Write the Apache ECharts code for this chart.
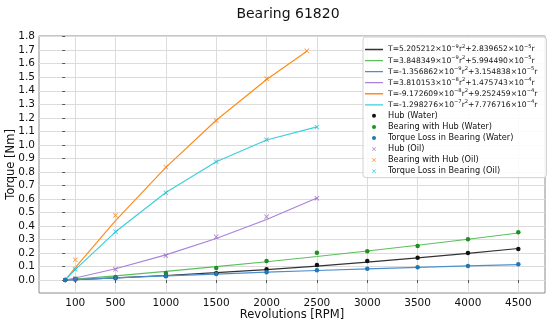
<!DOCTYPE html>
<html><head><meta charset="utf-8">
<script src="https://cdn.jsdelivr.net/npm/echarts@6/dist/echarts.min.js"></script>
<style>html,body{margin:0;padding:0;background:#fff}#c{width:550px;height:323px}</style>
</head><body><div id="c"></div>
<script>
// categories (revolutions, RPM)
var rpmWater = [0, 100, 500, 1000, 1500, 2000, 2500, 3000, 3500, 4000, 4500];
var rpmOil = [100, 500, 1000, 1500, 2000, 2500];
var rpmOilBearing = [100, 500, 1000, 1500, 2000, 2400];
var rpmFitWater = [0, 100, 500, 1000, 1500, 2000, 2500, 3000, 3500, 4000, 4500];
var rpmFitOil = [0, 100, 500, 1000, 1500, 2000, 2500];
var rpmFitOilBearing = [0, 100, 500, 1000, 1500, 2000, 2400];
// measured torque [Nm]
var hubWater = [0, 0.006, 0.016, 0.031, 0.050, 0.079, 0.111, 0.140, 0.165, 0.200, 0.229];
var bearingWater = [0, 0.010, 0.022, 0.052, 0.089, 0.140, 0.202, 0.212, 0.251, 0.301, 0.353];
var lossWater = [0, 0.004, 0.014, 0.028, 0.044, 0.057, 0.072, 0.084, 0.094, 0.104, 0.116];
var hubOil = [0.010, 0.079, 0.180, 0.320, 0.468, 0.604];
var bearingOil = [0.150, 0.478, 0.836, 1.178, 1.489, 1.696];
var lossOil = [0.079, 0.357, 0.646, 0.875, 1.038, 1.132];
// fitted curves
var fitHubWater = [0, 0.003, 0.0155, 0.0336, 0.0543, 0.0776, 0.1035, 0.1320, 0.1632, 0.1969, 0.2332];
var fitBearingWater = [0, 0.006, 0.0309, 0.0638, 0.0986, 0.1353, 0.1739, 0.2145, 0.2570, 0.3014, 0.3477];
var fitLossWater = [0, 0.0031, 0.0154, 0.0302, 0.0443, 0.0577, 0.0704, 0.0824, 0.0938, 0.1045, 0.1145];
var fitHubOil = [0, 0.0151, 0.0833, 0.1857, 0.3071, 0.4476, 0.6071];
var fitBearingOil = [0, 0.0916, 0.4397, 0.8335, 1.1815, 1.4836, 1.6923];
var fitLossOil = [0, 0.0765, 0.3564, 0.6478, 0.8744, 1.0360, 1.1328];
// labels
var fitNames = [
  'T=5.205212×10⁻⁹r²+2.839652×10⁻⁵r',
  'T=3.848349×10⁻⁹r²+5.994490×10⁻⁵r',
  'T=-1.356862×10⁻⁹r²+3.154838×10⁻⁵r',
  'T=3.810153×10⁻⁸r²+1.475743×10⁻⁴r',
  'T=-9.172609×10⁻⁸r²+9.252459×10⁻⁴r',
  'T=-1.298276×10⁻⁷r²+7.776716×10⁻⁴r'
];
var scatterNames = ['Hub (Water)', 'Bearing with Hub (Water)', 'Torque Loss in Bearing (Water)',
  'Hub (Oil)', 'Bearing with Hub (Oil)', 'Torque Loss in Bearing (Oil)'];
var xTicks = [100, 500, 1000, 1500, 2000, 2500, 3000, 3500, 4000, 4500];
var yTicks = [0, 0.1, 0.2, 0.3, 0.4, 0.5, 0.6, 0.7, 0.8, 0.9, 1.0, 1.1, 1.2, 1.3, 1.4, 1.5, 1.6, 1.7, 1.8];

function pairs(xs, ys) { return xs.map(function (x, i) { return [x, ys[i]]; }); }
var FONT = 'DejaVu Sans';
var lineColors = ['#333333', '#5cbf5c', '#4a8fd0', '#a982dc', '#ff8c1a', '#3ccfdc'];
var dotColors = ['#111111', '#1f8f1f', '#1f77b4', '#9467bd', '#ff7f0e', '#17becf'];
var xPath = 'path://M0,1.2L1.2,0L5,3.8L8.8,0L10,1.2L6.2,5L10,8.8L8.8,10L5,6.2L1.2,10L0,8.8L3.8,5Z';
var lineIcon = 'path://M0,0L0.01,0L0.01,0.01ZM0,1.35L18,1.35L18,2.65L0,2.65ZM0,4L0.01,4L0.01,3.99Z';

var supMap = { '⁻': '−', '⁰': '0', '¹': '1', '²': '2', '³': '3', '⁴': '4', '⁵': '5', '⁶': '6', '⁷': '7', '⁸': '8', '⁹': '9' };
function richName(name) {
  var hasSup = false;
  for (var k in supMap) { if (name.indexOf(k) >= 0) { hasSup = true; break; } }
  if (!hasSup) return '{p|' + name + '}';
  var out = '', cur = '', curSup = null;
  for (var i = 0; i < name.length; i++) {
    var ch = name[i], isSup = supMap.hasOwnProperty(ch);
    if (curSup !== null && isSup !== curSup) { out += '{' + (curSup ? 's' : 'n') + '|' + cur + '}'; cur = ''; }
    curSup = isSup; cur += isSup ? supMap[ch] : ch;
  }
  if (cur) out += '{' + (curSup ? 's' : 'n') + '|' + cur + '}';
  return out;
}

var fits = [
  pairs(rpmFitWater, fitHubWater), pairs(rpmFitWater, fitBearingWater), pairs(rpmFitWater, fitLossWater),
  pairs(rpmFitOil, fitHubOil), pairs(rpmFitOilBearing, fitBearingOil), pairs(rpmFitOil, fitLossOil)
];
var pts = [
  pairs(rpmWater, hubWater), pairs(rpmWater, bearingWater), pairs(rpmWater, lossWater),
  pairs(rpmOil, hubOil), pairs(rpmOilBearing, bearingOil), pairs(rpmOil, lossOil)
];
var series = [];
fits.forEach(function (d, i) {
  series.push({ name: fitNames[i], type: 'line', data: d, symbol: 'none', z: 2,
    lineStyle: { color: lineColors[i], width: 1.2 }, itemStyle: { color: lineColors[i] } });
});
pts.forEach(function (d, i) {
  var isOil = i >= 3;
  series.push({ name: scatterNames[i], type: 'scatter', data: d, z: 3,
    symbol: isOil ? xPath : 'circle', symbolSize: isOil ? 5 : 4.5,
    itemStyle: { color: dotColors[i], opacity: isOil ? 0.8 : 1 } });
});

var legendData = fitNames.map(function (n) { return { name: n, icon: lineIcon }; })
  .concat(scatterNames.map(function (n) { return { name: n }; }));

var chart = echarts.init(document.getElementById('c'), null, { renderer: 'canvas' });
chart.setOption({
  animation: false,
  backgroundColor: '#fff',
  title: { text: 'Bearing 61820', left: 283, top: 2, textAlign: 'center',
    textStyle: { fontFamily: FONT, fontSize: 14, fontWeight: 'normal', color: '#111' } },
  grid: { left: 39, right: 5, top: 36, bottom: 30, show: true, borderColor: '#8c8c8c', borderWidth: 1,
    containLabel: false, outerBoundsMode: 'none' },
  legend: {
    orient: 'vertical', left: 363, top: 37, padding: [7, 9, 1, 2],
    itemWidth: 18, itemHeight: 4, itemGap: 0.06,
    backgroundColor: 'rgba(255,255,255,0.85)', borderColor: '#d0d0d0', borderWidth: 1, borderRadius: 3,
    formatter: function (name) { return richName(name); },
    textStyle: { fontFamily: FONT, fontSize: 8.2, lineHeight: 11, color: '#111',
      rich: {
        p: { fontFamily: FONT, fontSize: 8.2, lineHeight: 11, verticalAlign: 'middle', color: '#111' },
        n: { fontFamily: FONT, fontSize: 7.6, lineHeight: 11, verticalAlign: 'middle', color: '#111' },
        s: { fontFamily: FONT, fontSize: 5.2, lineHeight: 5, verticalAlign: 'top', color: '#111' }
      } },
    data: legendData
  },
  xAxis: {
    type: 'value', min: -260, max: 4765,
    name: 'Revolutions [RPM]', nameLocation: 'middle', nameGap: 16, nameMoveOverlap: false,
    nameTextStyle: { fontFamily: FONT, fontSize: 11.5, color: '#111' },
    axisLine: { show: false },
    axisTick: { show: true, length: 3, customValues: xTicks, lineStyle: { color: '#555' } },
    axisLabel: { customValues: xTicks, fontFamily: FONT, fontSize: 10.5, color: '#111', margin: 5,
      formatter: function (v) { return String(v); } },
    splitLine: { show: true, lineStyle: { color: '#dcdcdc', width: 1 } }
  },
  yAxis: {
    type: 'value', min: -0.096, max: 1.805,
    name: 'Torque [Nm]', nameLocation: 'middle', nameGap: 21.5, nameRotate: 90, nameMoveOverlap: false,
    nameTextStyle: { fontFamily: FONT, fontSize: 11.5, color: '#111' },
    axisLine: { show: false },
    axisTick: { show: true, length: 3, customValues: yTicks, lineStyle: { color: '#555' } },
    axisLabel: { customValues: yTicks, fontFamily: FONT, fontSize: 10.5, color: '#111', margin: 4,
      formatter: function (v) { return v.toFixed(1); } },
    splitLine: { show: true, lineStyle: { color: '#dcdcdc', width: 1 } }
  },
  series: series
});
</script></body></html>
